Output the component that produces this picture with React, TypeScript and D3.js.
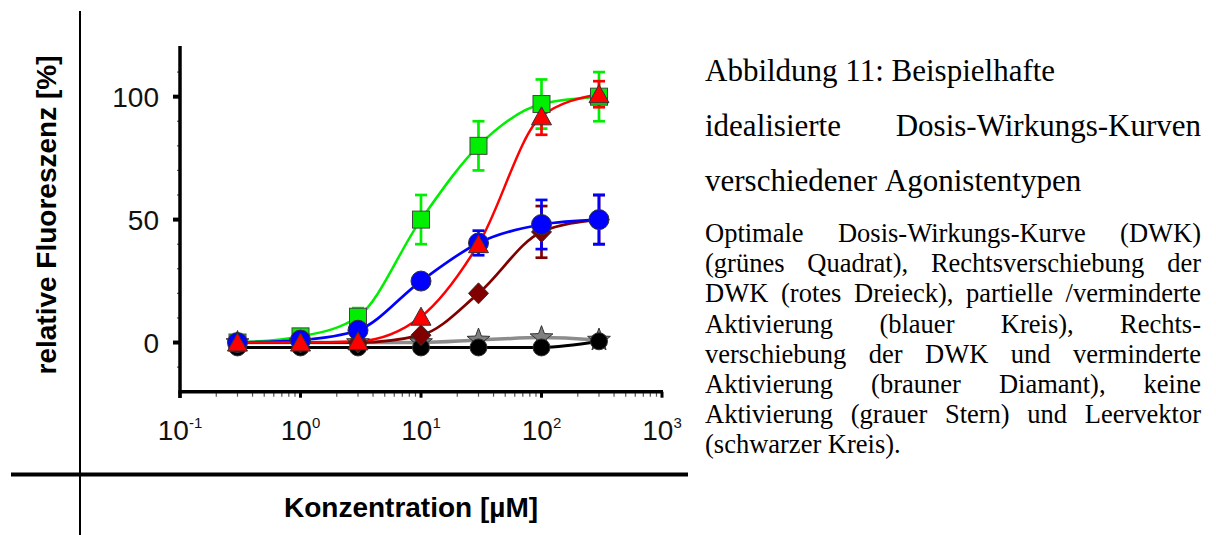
import React from 'react';
import * as d3 from 'd3';

// ---------------- data ----------------
const concentrations = [0.3, 1, 3, 10, 30, 100, 300];
const greenValues = [0, 2.5, 10.5, 50, 80, 97, 100];
const greenErrors = [0, 0, 3.5, 10, 10, 10, 10];
const redValues = [0, 0, 0.5, 10.5, 40, 92, 101];
const redErrors = [0, 0, 0, 0, 3, 7.5, 5.3];
const blueValues = [0, 1, 5, 25, 40.5, 48, 50];
const blueErrors = [0, 0, 0, 0, 5, 10, 10];
const brownValues = [0, 0, 0, 3, 20, 45, 50];
const brownErrors = [0, 0, 0, 0, 0, 10.5, 10];
const grayValues = [0, 0, 0, 0, 1, 2, 1];
const blackValues = [-2, -2, -2, -2, -2, -2, 0.5];

const xTickExponents = [-1, 0, 1, 2, 3];
const yTickValues = [0, 50, 100];
const yMinorTickValues = [-10, 10, 20, 30, 40, 60, 70, 80, 90, 110];

const yAxisTitle = 'relative Fluoreszenz [%]';
const xAxisTitle = 'Konzentration [µM]';

const titleLines = [
  'Abbildung 11: Beispielhafte',
  'idealisierte Dosis-Wirkungs-Kurven',
  'verschiedener Agonistentypen',
];
const titleJustify = [false, true, false];
const captionLines = [
  'Optimale Dosis-Wirkungs-Kurve (DWK)',
  '(grünes Quadrat), Rechtsverschiebung der',
  'DWK (rotes Dreieck), partielle /verminderte',
  'Aktivierung (blauer Kreis), Rechts-',
  'verschiebung der DWK und verminderte',
  'Aktivierung (brauner Diamant), keine',
  'Aktivierung (grauer Stern) und Leervektor',
  '(schwarzer Kreis).',
];

// ---------------- layout ----------------
const W = 1216;
const H = 535;
const x = d3.scaleLog().domain([0.1, 1000]).range([180, 662]);
const y = d3.scaleLinear().domain([-20, 120]).range([391.7, 47.5]);

const SANS = "'Liberation Sans', Arial, sans-serif";
const SERIF = "'Liberation Serif', 'Times New Roman', serif";

let measureCtx: CanvasRenderingContext2D | null = null;
function measure(text: string, font: string): number {
  if (!measureCtx) {
    const c = document.createElement('canvas');
    measureCtx = c.getContext('2d');
  }
  if (!measureCtx) return text.length * 10;
  measureCtx.font = font;
  return measureCtx.measureText(text).width;
}

function JustifiedLine(props: {
  text: string; x0: number; x1: number; yb: number; size: number; justify: boolean;
}) {
  const { text, x0, x1, yb, size, justify } = props;
  const font = `${size}px 'Liberation Serif'`;
  const words = text.split(' ');
  const widths = words.map((w) => measure(w, font));
  const total = d3.sum(widths);
  const gap = justify && words.length > 1 ? (x1 - x0 - total) / (words.length - 1) : measure(' ', font);
  let cx = x0;
  return (
    <g>
      {words.map((w, i) => {
        const px = cx;
        cx += widths[i] + gap;
        return (
          <text key={i} x={px} y={yb} fontFamily={SERIF} fontSize={size} fill="#000">
            {w}
          </text>
        );
      })}
    </g>
  );
}

const line = d3
  .line<[number, number]>()
  .x((d) => x(d[0]))
  .y((d) => y(d[1]))
  .curve(d3.curveMonotoneX);

const pts = (vals: number[]) => concentrations.map((c, i) => [c, vals[i]] as [number, number]);

function ErrorBars({ vals, errs, color }: { vals: number[]; errs: number[]; color: string }) {
  return (
    <g stroke={color} strokeWidth={2.7} fill="none">
      {concentrations.map((c, i) => {
        if (!errs[i]) return null;
        const cx = x(c);
        const yt = y(vals[i] + errs[i]);
        const yb = y(vals[i] - errs[i]);
        return (
          <g key={i}>
            <line x1={cx} x2={cx} y1={yt} y2={yb} />
            <line x1={cx - 6} x2={cx + 6} y1={yt} y2={yt} />
            <line x1={cx - 6} x2={cx + 6} y1={yb} y2={yb} />
          </g>
        );
      })}
    </g>
  );
}

function starPath(cx: number, cy: number, ro: number, ri: number) {
  const p: string[] = [];
  for (let k = 0; k < 10; k++) {
    const r = k % 2 === 0 ? ro : ri;
    const a = -Math.PI / 2 + (k * Math.PI) / 5;
    p.push(`${cx + r * Math.cos(a)},${cy + r * Math.sin(a)}`);
  }
  return 'M' + p.join('L') + 'Z';
}

const MSTROKE = '#333';

export default function App() {
  const minorX: number[] = [];
  for (let e = -1; e <= 2; e++) for (let m = 2; m <= 9; m++) minorX.push(m * Math.pow(10, e));

  return (
    <svg
      width={W}
      height={H}
      viewBox={`0 0 ${W} ${H}`}
      style={{ position: 'fixed', left: 0, top: 0, background: '#fff' }}
    >
      <rect x={0} y={0} width={W} height={H} fill="#fff" />

      {/* frame lines */}
      <line x1={80} x2={80} y1={11} y2={535} stroke="#000" strokeWidth={2} />
      <line x1={11} x2={688} y1={474.5} y2={474.5} stroke="#000" strokeWidth={4} />

      {/* y axis title */}
      <text
        transform={`translate(56,215) rotate(-90)`}
        textAnchor="middle"
        fontFamily={SANS}
        fontWeight="bold"
        fontSize={28}
        fill="#000"
      >
        {yAxisTitle}
      </text>

      {/* x axis title */}
      <text x={411} y={517} textAnchor="middle" fontFamily={SANS} fontWeight="bold" fontSize={28} fill="#000">
        {xAxisTitle}
      </text>

      {/* y ticks */}
      {yMinorTickValues.map((v) => (
        <line key={'ym' + v} x1={177} x2={180} y1={y(v)} y2={y(v)} stroke="#555" strokeWidth={1.2} />
      ))}
      {yTickValues.map((v) => (
        <g key={'y' + v}>
          <line x1={173} x2={180} y1={y(v)} y2={y(v)} stroke="#000" strokeWidth={4} />
          <text x={159} y={y(v)} dy="0.36em" textAnchor="end" fontFamily={SANS} fontSize={28} fill="#111">
            {v}
          </text>
        </g>
      ))}

      {/* x ticks */}
      {minorX.map((v, i) => (
        <line key={'xm' + i} x1={x(v)} x2={x(v)} y1={y(-20)} y2={y(-20) + 5} stroke="#555" strokeWidth={1.2} />
      ))}
      {xTickExponents.map((e) => (
        <g key={'x' + e}>
          <line x1={x(Math.pow(10, e))} x2={x(Math.pow(10, e))} y1={y(-20)} y2={y(-20) + 6} stroke="#000" strokeWidth={3} />
          <text x={x(Math.pow(10, e))} y={440} textAnchor="middle" fontFamily={SANS} fontSize={28} fill="#111">
            10
            <tspan dy={-12} fontSize={15}>
              {String(e)}
            </tspan>
          </text>
        </g>
      ))}

      {/* axes */}
      <line x1={180} x2={180} y1={46} y2={398} stroke="#000" strokeWidth={3.5} />
      <line x1={178.5} x2={663} y1={y(-20)} y2={y(-20)} stroke="#000" strokeWidth={3.5} />

      {/* curves */}
      <g fill="none" strokeLinejoin="round">
        <path d={line(pts(grayValues)) || ''} stroke="#8c8c8c" strokeWidth={3.5} />
        <path d={line(pts(blackValues)) || ''} stroke="#000" strokeWidth={3} />
        <path d={line(pts(brownValues)) || ''} stroke="#800000" strokeWidth={2.7} />
        <path d={line(pts(greenValues)) || ''} stroke="#00ee00" strokeWidth={2.5} />
        <path d={line(pts(blueValues)) || ''} stroke="#0000ff" strokeWidth={2.7} />
        <path d={line(pts(redValues)) || ''} stroke="#ff0000" strokeWidth={2.5} />
      </g>

      {/* error bars */}
      <ErrorBars vals={brownValues} errs={brownErrors} color="#800000" />
      <ErrorBars vals={greenValues} errs={greenErrors} color="#00ee00" />
      <ErrorBars vals={blueValues} errs={blueErrors} color="#0000ff" />
      <ErrorBars vals={redValues} errs={redErrors} color="#ff0000" />

      {/* markers */}
      <g stroke={MSTROKE} strokeWidth={1}>
        {concentrations.map((c, i) => (
          <path key={'s' + i} d={starPath(x(c), y(grayValues[i]), 12, 5)} fill="#808080" />
        ))}
        {concentrations.map((c, i) => (
          <circle key={'k' + i} cx={x(c)} cy={y(blackValues[i])} r={8.5} fill="#000" />
        ))}
        {concentrations.map((c, i) => {
          const cx = x(c), cy = y(brownValues[i]);
          return (
            <path key={'d' + i} d={`M${cx},${cy - 10.5}L${cx + 10},${cy}L${cx},${cy + 10.5}L${cx - 10},${cy}Z`} fill="#800000" />
          );
        })}
        {concentrations.map((c, i) => (
          <rect key={'g' + i} x={x(c) - 8.5} y={y(greenValues[i]) - 8.5} width={17} height={17} fill="#00ee00" stroke="#444" />
        ))}
        {concentrations.map((c, i) => (
          <circle key={'b' + i} cx={x(c)} cy={y(blueValues[i])} r={10} fill="#0000ff" />
        ))}
        {concentrations.map((c, i) => {
          const cx = x(c), cy = y(redValues[i]);
          return (
            <path key={'r' + i} d={`M${cx},${cy - 9.5}L${cx + 10},${cy + 8.5}L${cx - 10},${cy + 8.5}Z`} fill="#ff0000" />
          );
        })}
      </g>

      {/* caption text */}
      {titleLines.map((t, i) => (
        <JustifiedLine key={'t' + i} text={t} x0={705} x1={1201} yb={81 + i * 55} size={31} justify={titleJustify[i]} />
      ))}
      {captionLines.map((t, i) => (
        <JustifiedLine
          key={'c' + i}
          text={t}
          x0={705}
          x1={1201}
          yb={242 + i * 30.2}
          size={26.5}
          justify={i < captionLines.length - 1}
        />
      ))}
    </svg>
  );
}
